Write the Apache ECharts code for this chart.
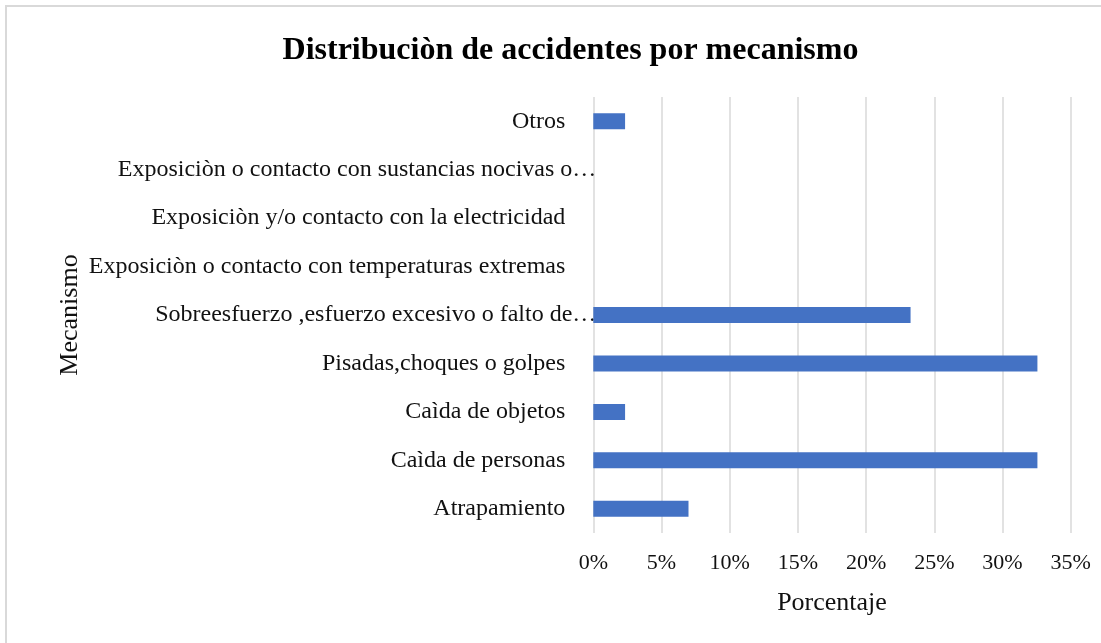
<!DOCTYPE html>
<html>
<head>
<meta charset="utf-8">
<script src="https://cdn.jsdelivr.net/npm/echarts@6/dist/echarts.min.js"></script>
<style>
html,body{margin:0;padding:0;background:#fff;}
#chart{width:1101px;height:643px;}
</style>
</head>
<body>
<div id="chart"></div>
<script>
const titleText = 'Distribuciòn de accidentes por mecanismo';
const categories = [
  'Atrapamiento',
  'Caìda de personas',
  'Caìda de objetos',
  'Pisadas,choques o golpes',
  'Sobreesfuerzo ,esfuerzo excesivo o falto de…',
  'Exposiciòn o contacto con temperaturas extremas',
  'Exposiciòn y/o contacto con la electricidad',
  'Exposiciòn o contacto con sustancias nocivas o…',
  'Otros'
];
const values = [6.98, 32.56, 2.33, 32.56, 23.26, 0, 0, 0, 2.33];
const xTicks = [0, 5, 10, 15, 20, 25, 30, 35];
const xAxisName = 'Porcentaje';
const yAxisName = 'Mecanismo';

const serif = '"Liberation Serif", "Times New Roman", serif';
const chart = echarts.init(document.getElementById('chart'));
chart.setOption({
  animation: false,
  backgroundColor: '#fff',
  graphic: [{
    type: 'rect',
    shape: {x: 6, y: 6, width: 1300, height: 900},
    style: {fill: 'none', stroke: '#d9d9d9', lineWidth: 2},
    silent: true
  }],
  title: {
    text: titleText,
    left: 565.5,
    top: 30,
    textAlign: 'center',
    textStyle: {fontFamily: serif, fontWeight: 'bold', fontSize: 32, color: '#000'}
  },
  grid: {left: 593.3, right: 30.3, top: 97, bottom: 110},
  xAxis: {
    type: 'value',
    min: xTicks[0],
    max: xTicks[xTicks.length - 1],
    interval: xTicks[1] - xTicks[0],
    name: xAxisName,
    nameLocation: 'middle',
    nameGap: 57,
    nameTextStyle: {fontFamily: serif, fontSize: 26, color: '#111'},
    axisLine: {show: false},
    axisTick: {show: false},
    axisLabel: {formatter: '{value}%', fontFamily: serif, fontSize: 22, color: '#111', margin: 19},
    splitLine: {show: true, lineStyle: {color: '#d9d9d9', width: 1.5}}
  },
  yAxis: {
    type: 'category',
    data: categories,
    name: yAxisName,
    nameLocation: 'middle',
    nameGap: 510,
    nameTextStyle: {fontFamily: serif, fontSize: 26, color: '#111'},
    axisLine: {show: false},
    axisTick: {show: false},
    axisLabel: {
      margin: -3,
      fontFamily: serif, fontSize: 24, color: '#111',
      formatter: function (v) {
        return v.indexOf('…') >= 0 ? '{t|' + v + '}' : '{n|' + v + '}';
      },
      rich: {
        t: {fontFamily: serif, fontSize: 24, color: '#111'},
        n: {fontFamily: serif, fontSize: 24, color: '#111', padding: [0, 31, 0, 0]}
      }
    }
  },
  series: [{
    type: 'bar',
    data: values,
    barWidth: 16,
    itemStyle: {color: '#4472C4'}
  }]
});
</script>
</body>
</html>
